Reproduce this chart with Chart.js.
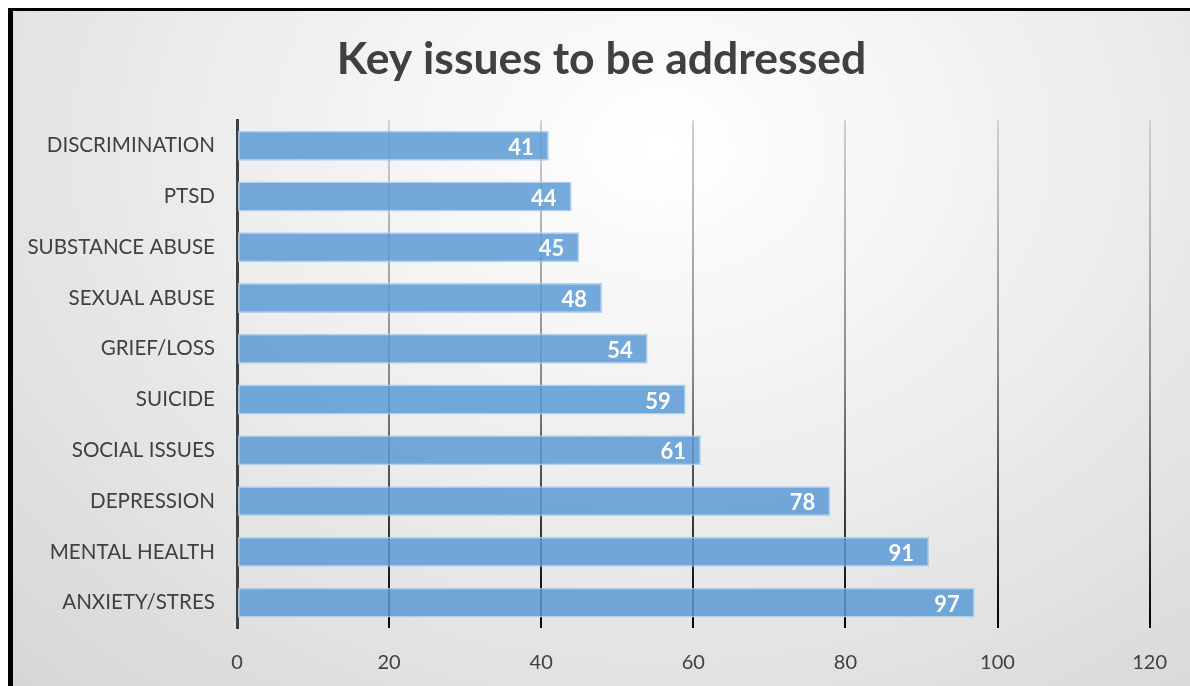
<!DOCTYPE html>
<html lang="en">
<head>
    <meta charset="UTF-8">
    <title>Key issues to be addressed</title>
    <script src="https://cdn.jsdelivr.net/npm/chart.js"></script>
    <style>
        html, body { margin: 0; padding: 0; background: #fff; overflow: hidden; }
        .frame {
            position: absolute; left: 8px; top: 8px;
            width: 1177px; height: 675px;
            border-left: 5px solid #000; border-top: 3px solid #000;
            background: radial-gradient(ellipse 80% 110% at 55% 20%, #ffffff 0%, #eeeeee 45%, #d6d6d6 100%);
        }
    </style>
</head>
<body>
    <div class="frame">
        <canvas id="myChart"></canvas>
    </div>

    <script>
        const issues = ['DISCRIMINATION', 'PTSD', 'SUBSTANCE ABUSE', 'SEXUAL ABUSE', 'GRIEF/LOSS',
                        'SUICIDE', 'SOCIAL ISSUES', 'DEPRESSION', 'MENTAL HEALTH', 'ANXIETY/STRES'];
        const counts = [41, 44, 45, 48, 54, 59, 61, 78, 91, 97];
        const xTicks = [0, 20, 40, 60, 80, 100, 120];

        const fontFamily = 'Lato, "Open Sans", sans-serif';

        // white value labels at the end of each bar
        const barLabels = {
            id: 'barLabels',
            afterDatasetsDraw(chart) {
                const ctx = chart.ctx;
                const meta = chart.getDatasetMeta(0);
                ctx.save();
                ctx.fillStyle = '#fff';
                ctx.font = 'bold 22px ' + fontFamily;
                ctx.textAlign = 'right';
                ctx.textBaseline = 'middle';
                meta.data.forEach((bar, i) => {
                    ctx.fillText(counts[i], bar.x - 15, bar.y + 2);
                });
                ctx.restore();
            }
        };

        new Chart(document.getElementById('myChart'), {
            type: 'bar',
            data: {
                labels: issues,
                datasets: [{
                    data: counts,
                    backgroundColor: 'rgba(91, 155, 213, 0.85)',
                    borderColor: 'rgba(170, 205, 238, 0.9)',
                    borderWidth: 1.5,
                    borderSkipped: false,
                    categoryPercentage: 1,
                    barPercentage: 0.59
                }]
            },
            options: {
                indexAxis: 'y',
                responsive: true,
                maintainAspectRatio: false,
                animation: false,
                layout: { padding: 0 },
                plugins: {
                    legend: { display: false },
                    tooltip: { enabled: false },
                    title: {
                        display: true,
                        text: 'Key issues to be addressed',
                        color: '#404040',
                        font: { family: fontFamily, size: 44.5, weight: 'bold', lineHeight: 1.2 },
                        padding: { top: 22, bottom: 34 }
                    }
                },
                scales: {
                    x: {
                        min: 0,
                        max: 120,
                        afterBuildTicks: (scale) => { scale.ticks = xTicks.map(v => ({ value: v })); },
                        afterFit: (scale) => { scale.height = 58; },
                        border: { display: false },
                        grid: {
                            drawTicks: false,
                            lineWidth: 2,
                            color: (c) => {
                                const a = c.chart.chartArea;
                                if (!a) return '#888';
                                const g = c.chart.ctx.createLinearGradient(0, a.top, 0, a.bottom);
                                g.addColorStop(0, '#d0d0d0');
                                g.addColorStop(0.5, '#8a8a8a');
                                g.addColorStop(1, '#000');
                                return g;
                            }
                        },
                        ticks: {
                            padding: 23,
                            color: '#404040',
                            font: { family: fontFamily, size: 20 }
                        }
                    },
                    y: {
                        afterFit: (scale) => { scale.width = 224; },
                        border: { display: true, color: '#404040', width: 3 },
                        grid: { display: false, drawTicks: false },
                        ticks: {
                            padding: 22,
                            color: '#404040',
                            font: { family: fontFamily, size: 20.6 }
                        }
                    },
                    // empty right-hand axis, only keeps space right of the plot
                    yRight: {
                        axis: 'y',
                        type: 'category',
                        position: 'right',
                        afterFit: (scale) => { scale.width = 31; },
                        border: { display: false },
                        grid: { display: false, drawTicks: false },
                        ticks: { display: false }
                    }
                }
            },
            plugins: [barLabels]
        });
    </script>
</body>
</html>
